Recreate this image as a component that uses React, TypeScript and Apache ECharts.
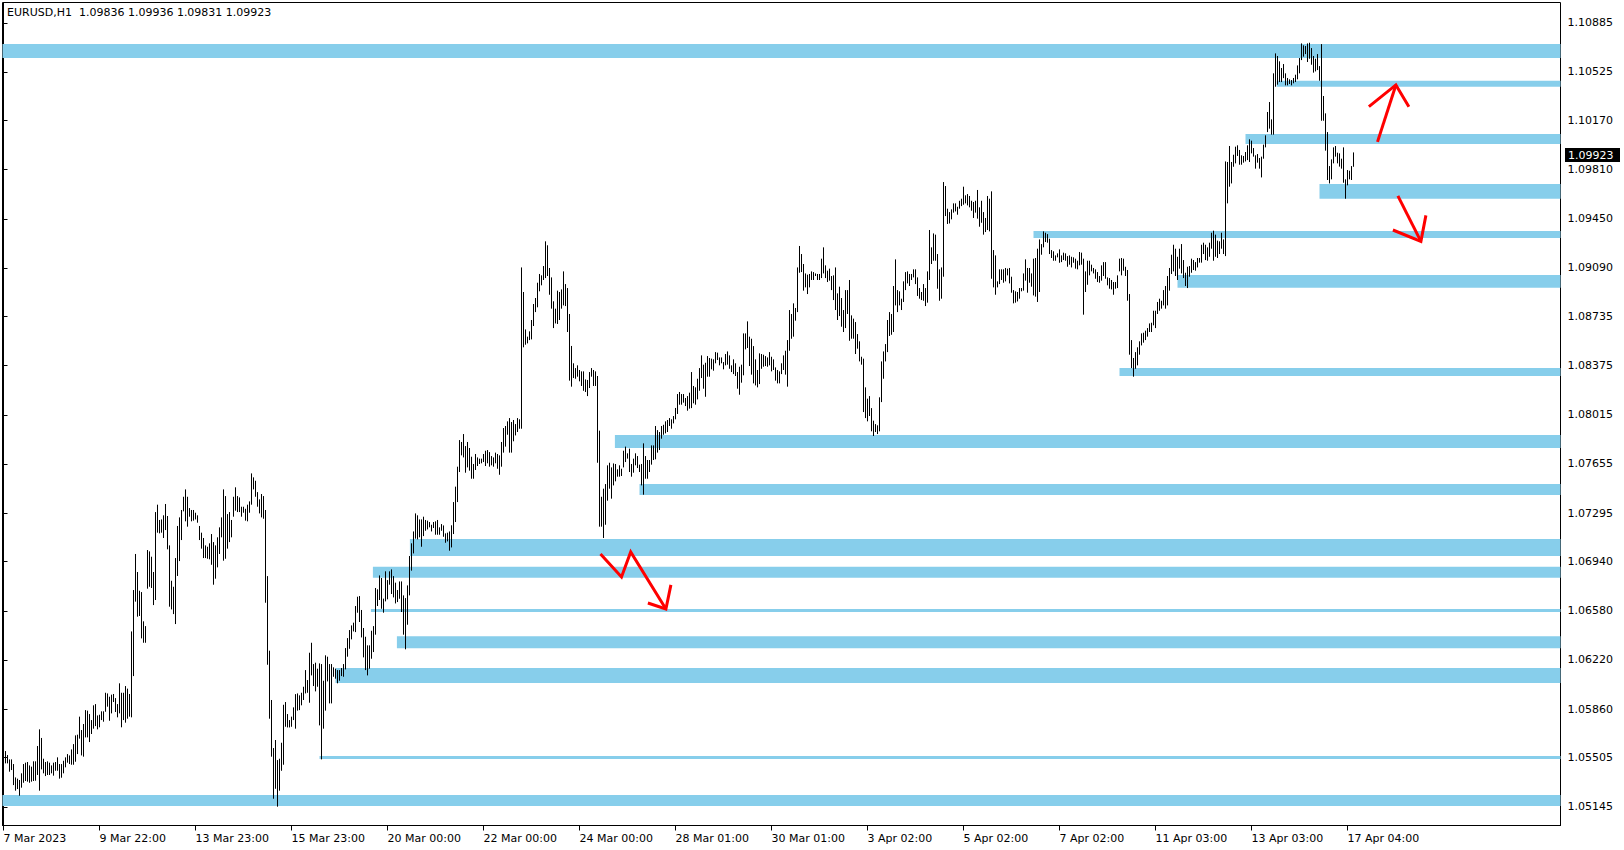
import React, { useEffect, useRef } from "react";
import * as echarts from "echarts";

// ---------- data ----------
const chartTitle = "EURUSD,H1  1.09836 1.09936 1.09831 1.09923";
const lastClose = 1.09923;
const lastCloseLabel = "1.09923";

// x-axis labels, one every 48 hourly bars
const xTickBars = [0, 48, 96, 144, 192, 240, 288, 336, 384, 432, 480, 528, 576, 624, 672];
const xTickLabels = [
  "7 Mar 2023", "9 Mar 22:00", "13 Mar 23:00", "15 Mar 23:00", "20 Mar 00:00",
  "22 Mar 00:00", "24 Mar 00:00", "28 Mar 01:00", "30 Mar 01:00", "3 Apr 02:00",
  "5 Apr 02:00", "7 Apr 02:00", "11 Apr 03:00", "13 Apr 03:00", "17 Apr 04:00",
];

// price-axis labels
const yTickLabels = [
  "1.10885", "1.10525", "1.10170", "1.09810", "1.09450", "1.09090", "1.08735", "1.08375",
  "1.08015", "1.07655", "1.07295", "1.06940", "1.06580", "1.06220", "1.05860", "1.05505", "1.05145",
];

// hourly bar highs and lows, in points (1e-5)
const barHigh = [
  105517,105553,105524,105492,105492,105458,105360,105351,105341,105390,
  105458,105468,105473,105448,105439,105478,105478,105590,105712,105649,
  105497,105473,105478,105468,105448,105468,105473,105507,105458,105458,
  105482,105507,105531,105521,105565,105604,105668,105673,105805,105707,
  105751,105853,105849,105824,105780,105888,105897,105814,105819,105844,
  105844,105980,105975,105951,105966,105971,105941,105897,106049,105980,
  105980,106029,106010,105971,106429,106732,106996,106864,106727,106717,
  106503,106468,107025,107015,106976,106864,107303,107357,107245,107249,
  107279,107362,107274,107059,106800,106756,106966,107201,107264,107318,
  107415,107469,107415,107332,107318,107318,107298,107279,107201,107152,
  107113,107059,107049,107074,107142,107083,107059,107118,107191,107264,
  107469,107420,107288,107303,107245,107415,107484,107420,107410,
  107342,107342,107327,107357,107381,107586,107557,107532,107449,107396,107435,
  107420,107318,106834,106288,105927,105575,105634,105487,105497,105614,
  105892,105912,105824,105780,105805,105873,105970,105975,105961,105980,
  106024,106146,106073,106273,106346,106190,106200,106156,106195,106190,
  106068,106254,106244,106190,106190,106166,106156,106146,106146,106161,
  106190,106307,106380,106439,106473,106493,106615,106683,106688,106586,
  106454,106390,106327,106327,106434,106468,106747,106737,106839,106820,
  106669,106869,106805,106869,106883,106834,106786,106732,106795,106795,
  106693,106673,106766,106981,107074,107161,107293,107279,107249,107249,
  107269,107245,107240,107230,107210,107230,107235,107245,107191,107215,
  107205,107147,107152,107161,
  107206,107376,107489,107635,107830,107816,
  107874,107786,107816,107772,107708,107655,107728,107703,107694,107694,
  107728,107752,107757,107742,107713,107703,107738,107728,107718,107816,
  107918,107933,107967,107991,107962,107977,107947,107991,107982,109094,
  108914,108640,108587,108626,108709,108826,108870,108982,109046,109036,
  109104,109285,109256,109090,109021,108846,108792,108924,108914,108933,
  109065,108972,108943,108753,108519,108392,108357,108377,108343,108333,
  108333,108274,108270,108328,108357,108343,108333,108299,107899,107415,
  107474,107508,107645,107664,107630,107659,107655,107616,107645,107620,
  107752,107782,107733,107767,107655,107694,107733,107713,107650,107655,
  107806,107713,107684,107684,107791,107791,107933,107903,107889,107933,
  107942,107967,107977,107991,107982,108006,108065,108167,108182,
  108167,108167,108138,108152,108177,108328,108226,108216,108279,108357,108450,
  108382,108396,108445,108431,108426,108421,108474,108470,108435,108435,
  108401,108460,108479,108450,108377,108421,108392,108328,108367,108382,
  108611,108611,108699,108587,108572,108518,108421,108343,108465,108460,
  108455,108445,108435,108474,108440,108421,108362,108343,108333,108392,
  108450,108484,108562,108782,108753,108831,108797,109094,109251,109192,
  109119,109050,109041,109046,109065,109060,109050,109046,109046,109158,
  109241,109109,109070,109085,109031,109036,109094,108904,108953,108870,
  108782,108928,108928,109002,108743,108719,108694,108606,108553,108440,
  108426,108216,108133,108152,108064,107972,107947,107938,108143,108406,
  108479,108533,108709,108767,108753,108958,109153,108928,108919,108865,
  108992,109060,109065,109046,109046,109080,109080,109021,108943,
  108914,108972,108943,109065,109368,109241,109343,109334,109192,109080,109094,
  109719,109690,109524,109499,109519,109563,109563,109538,109582,109597,
  109685,109622,109631,109617,109582,109573,109582,109661,109534,109582,
  109499,109456,109617,109597,109651,109221,109182,108992,109080,109080,
  109080,109090,109085,109090,109026,108928,108919,108914,108943,108943,
  109050,109153,109090,109090,109050,109158,109163,109231,109299,109265,
  109358,109348,109338,109304,109221,109212,109182,109197,109226,109182,
  109202,109197,109177,109182,109172,109168,109158,109143,109207,109202,
  109158,109065,109143,109143,109114,109090,109080,109060,109031,109109,
  109133,109133,109021,109016,109002,108987,108987,109036,109158,109163,
  109158,109099,109075,108899,108562,108431,108474,108509,108553,108611,
  108616,108631,108650,108684,
  108689,108777,108777,108841,108865,108850,
  108928,108958,109031,109090,109187,109260,109231,109172,109231,109265,
  109148,109055,109099,109104,109158,109148,109133,109163,109163,109260,
  109275,109260,109241,109275,109348,109363,109334,109290,109285,109348,
  109299,109870,109866,109983,109866,109919,109978,109988,109954,109915,
  109910,109939,109988,110032,110022,109968,109915,109924,109895,109905,
  109993,110061,110232,110305,110178,110515,110661,110642,110603,110554,
  110583,110515,110481,110471,110466,110481,110505,110573,110627,110734,
  110720,110715,110734,110739,110700,110642,110622,110656,110568,110729,
  110349,110222,110085,109836,109885,109973,109983,109934,109929,109890,
  109973,109739,109807,109802,109836,109936,
];

const barLow = [
  105453,105463,105463,105402,105414,105304,105263,105275,105226,105285,
  105321,105334,105329,105321,105329,105334,105336,105378,105263,105419,
  105390,105370,105378,105378,105390,105373,105409,105409,105351,105358,
  105390,105434,105468,105458,105453,105453,105475,105531,105644,105521,
  105512,105653,105653,105619,105678,105717,105736,105712,105727,105780,
  105768,105841,105878,105775,105829,105912,105839,105800,105829,105727,
  105780,105761,105790,105805,105800,106102,106647,106537,106542,106378,
  106346,106346,106742,106756,106747,106622,106659,107152,107147,107152,
  107113,107171,107030,106610,106590,106556,106483,106835,106944,107098,
  107308,107235,107196,107269,107235,107240,107249,107225,107098,107035,
  106966,106966,106961,106957,106917,106771,106815,106898,106996,107118,
  106947,106961,107035,107083,107118,107269,107313,107303,107303,
  107269,107298,107240,107235,107298,107357,107469,107415,107342,107293,107264,
  107254,106639,106185,105790,105512,105204,105277,105146,105263,105409,
  105453,105731,105726,105726,105731,105780,105717,105849,105853,105888,
  105927,105975,105980,105907,106107,106029,105990,106024,105741,105492,
  105717,105849,106063,105902,105902,106097,106083,106049,106068,106102,
  106097,106151,106244,106302,106371,106429,106424,106566,106498,106385,
  106239,106146,106107,106156,106229,106278,106405,106615,106659,106595,
  106566,106649,106664,106771,106703,106678,106634,106644,106668,106571,
  106405,106298,106478,106693,106874,107000,107108,107103,107118,107049,
  107127,107166,107176,107191,107161,107186,107137,107137,107137,107166,
  107122,107078,107088,107020,
  107044,107142,107230,107376,107596,107718,
  107703,107591,107630,107606,107547,107547,107611,107640,107655,107660,
  107669,107640,107660,107635,107645,107635,107660,107620,107576,107635,
  107738,107782,107869,107738,107738,107821,107864,107889,107913,107913,
  108509,108528,108538,108562,108567,108665,108767,108802,108919,108963,
  109002,109016,109031,108894,108792,108650,108684,108680,108709,108792,
  108816,108811,108621,108265,108221,108284,108279,108294,108260,108226,
  108191,108182,108152,108211,108294,108226,108226,107664,107196,107196,
  107113,107210,107386,107474,107401,107498,107528,107562,107562,107567,
  107630,107669,107694,107596,107562,107591,107645,107625,107596,107498,
  107430,107547,107547,107596,107650,107684,107689,107738,107757,107840,
  107869,107879,107889,107933,107913,107952,107982,108021,108089,
  108089,108104,108079,108045,108060,108064,108099,108089,108128,108191,108284,
  108206,108147,108294,108294,108348,108338,108392,108416,108377,108392,
  108348,108377,108382,108352,108328,108313,108299,108206,108162,108250,
  108304,108494,108504,108372,108309,108245,108230,108216,108240,108352,
  108367,108372,108367,108377,108333,108343,108265,108245,108245,108313,
  108343,108309,108221,108484,108572,108587,108704,108767,109055,109060,
  108924,108948,108899,108948,109002,109002,109031,109002,109002,109016,
  109050,109016,108987,108997,108928,108855,108782,108709,108738,108660,
  108621,108650,108753,108557,108572,108572,108460,108499,108406,108382,
  108035,107991,107967,108006,107894,107860,107889,107874,107894,108108,
  108279,108406,108474,108592,108601,108621,108816,108767,108816,108782,
  108841,108928,108977,108958,109002,109021,108972,108885,108865,
  108855,108850,108811,108836,109002,109119,109143,109143,108938,108850,108865,
  109026,109470,109412,109416,109446,109495,109504,109480,109524,109543,
  109553,109563,109548,109534,109509,109456,109495,109451,109392,109421,
  109334,109353,109368,109358,109011,108948,108894,108948,108972,109002,
  108982,108992,109036,108977,108909,108831,108836,108845,108865,108919,
  108924,108997,108909,108982,108953,108889,108880,108841,108914,109187,
  109241,109280,109275,109192,109163,109143,109143,109168,109128,109133,
  109148,109143,109099,109114,109094,109128,109085,109080,109109,109114,
  108748,108914,108967,109036,109065,109050,109011,108987,108982,108997,
  109031,109011,108963,108938,108933,108894,108938,108943,109065,109036,
  109070,109031,108850,108455,108357,108294,108352,108377,108455,108523,
  108543,108562,108587,108621,
  108621,108670,108650,108753,108777,108792,
  108816,108792,108816,108924,109046,109065,109031,109002,109085,109050,
  109016,108958,108943,109026,109055,109075,109070,109094,109129,109129,
  109192,109148,109143,109172,109231,109143,109172,109163,109192,109231,
  109192,109177,109563,109685,109709,109831,109856,109910,109846,109846,
  109861,109870,109880,109866,109929,109905,109817,109861,109817,109753,
  109890,109973,110085,110110,110066,110066,110417,110432,110451,110451,
  110480,110427,110427,110437,110427,110442,110451,110471,110515,110612,
  110637,110656,110598,110622,110578,110520,110529,110539,110461,110168,
  110168,109949,109734,109709,109739,109856,109905,109856,109832,109817,
  109714,109597,109695,109739,109734,109831,
];

// support / resistance zones: first bar, upper and lower price (points)
const zoneStartBar = [-0.5, 636.6, 621, 658, 515, 587, 558, 305.7, 318, 203.2, 184.7, 183.7, 196.7, 166, 158, -0.5];
const zoneUpper = [110730, 110461, 110071, 109705, 109361, 109039, 108358, 107867, 107509, 107106, 106902, 106593, 106394, 106161, 105517, 105231];
const zoneLower = [110627, 110417, 109998, 109597, 109309, 108946, 108299, 107772, 107428, 106982, 106822, 106571, 106306, 106051, 105495, 105151];

// hand-drawn red arrows: polylines of [bar, price in points]
const arrowStrokes = [
  [[298.5, 106996], [309, 106828], [313.6, 107011], [331.2, 106593]],
  [[322.2, 106637], [331.2, 106593], [333.7, 106770]],
  [[687, 110013], [696.2, 110430]],
  [[682.7, 110271], [696.2, 110430], [702.7, 110271]],
  [[697.2, 109618], [708.7, 109285]],
  [[694.7, 109368], [708.7, 109285], [711.2, 109475]],
];

const PT = 100000;
const FONT = "DejaVu Sans";

export default function App() {
  const ref = useRef<HTMLDivElement>(null);

  useEffect(() => {
    if (!ref.current) return;
    const chart = echarts.init(ref.current, undefined, { renderer: "svg" });

    const n = Math.min(barHigh.length, barLow.length);
    const bars = [];
    for (let i = 0; i < n; i++) {
      const h = Math.max(barHigh[i], barLow[i]) / PT;
      const l = Math.min(barHigh[i], barLow[i]) / PT;
      bars.push([i, l, h]);
    }
    const zones = zoneStartBar.map((s, k) => [s, zoneUpper[k] / PT, zoneLower[k] / PT]);
    const arrows = arrowStrokes.map((a, k) => [a[0][0], a[0][1] / PT, k]);
    const yVals = yTickLabels.map(Number);

    chart.setOption({
      animation: false,
      backgroundColor: "#ffffff",
      title: {
        text: chartTitle,
        left: 7,
        top: 7,
        padding: 0,
        textStyle: { fontFamily: FONT, fontSize: 11, fontWeight: "normal", color: "#000" },
      },
      grid: {
        left: 2.5,
        top: 2.5,
        width: 1558,
        height: 823,
        show: true,
        borderColor: "#000",
        borderWidth: 1,
        backgroundColor: "transparent",
      },
      xAxis: {
        type: "value",
        min: -0.5,
        max: 778.5,
        axisLine: { show: true, lineStyle: { color: "#000", width: 1 } },
        axisTick: { show: true, length: 5, lineStyle: { color: "#000" }, customValues: xTickBars },
        axisLabel: {
          customValues: xTickBars,
          formatter: (v: number) => {
            const k = xTickBars.indexOf(Math.round(v));
            return k >= 0 ? xTickLabels[k] : "";
          },
          align: "left",
          margin: 7,
          color: "#000",
          fontFamily: FONT,
          fontSize: 11,
        },
        splitLine: { show: false },
      },
      yAxis: {
        type: "value",
        position: "right",
        min: 1.050081,
        max: 1.110336,
        axisLine: { show: true, lineStyle: { color: "#000", width: 1 } },
        axisTick: { show: true, length: 4, lineStyle: { color: "#000" }, customValues: yVals },
        axisLabel: {
          customValues: yVals,
          formatter: (v: number) => {
            let best = 0;
            for (let k = 1; k < yVals.length; k++) {
              if (Math.abs(yVals[k] - v) < Math.abs(yVals[best] - v)) best = k;
            }
            return yTickLabels[best];
          },
          margin: 7,
          padding: [3, 0, 0, 0],
          color: "#000",
          fontFamily: FONT,
          fontSize: 11,
        },
        splitLine: { show: false },
      },
      series: [
        {
          type: "custom",
          name: "zones",
          z: 1,
          clip: true,
          data: zones,
          renderItem: (params: any, api: any) => {
            const p0 = api.coord([api.value(0), api.value(1)]);
            const p1 = api.coord([api.value(0), api.value(2)]);
            const cs = params.coordSys;
            const right = cs.x + cs.width;
            return {
              type: "rect",
              shape: { x: p0[0], y: p0[1], width: right - p0[0], height: p1[1] - p0[1] },
              style: { fill: "#87CEEB" },
            };
          },
        },
        {
          type: "custom",
          name: "EURUSD",
          z: 2,
          clip: true,
          data: bars,
          renderItem: (params: any, api: any) => {
            const lo = api.coord([api.value(0), api.value(1)]);
            const hi = api.coord([api.value(0), api.value(2)]);
            return {
              type: "line",
              shape: { x1: hi[0], y1: hi[1], x2: lo[0], y2: lo[1] },
              style: { stroke: "#000", lineWidth: 1 },
            };
          },
        },
        {
          type: "custom",
          name: "arrows",
          z: 3,
          clip: true,
          data: arrows,
          renderItem: (params: any, api: any) => {
            const k = api.value(2);
            const pts = arrowStrokes[k].map((p) => api.coord([p[0], p[1] / PT]));
            return {
              type: "polyline",
              shape: { points: pts },
              style: { stroke: "#ff0000", lineWidth: 3, fill: null, lineJoin: "miter" },
            };
          },
        },
      ],
    });

    // current-price tag on the price axis, placed through the axis scale
    const yPix = chart.convertToPixel({ yAxisIndex: 0 }, lastClose) as number;
    const xAxisEnd = chart.convertToPixel({ xAxisIndex: 0 }, 778.5) as number;
    chart.setOption({
      graphic: [
        {
          type: "group",
          z: 100,
          children: [
            {
              type: "rect",
              shape: { x: xAxisEnd + 4.5, y: Math.round(yPix) - 6, width: 55, height: 14 },
              style: { fill: "#000" },
            },
            {
              type: "text",
              x: xAxisEnd + 7.5,
              y: Math.round(yPix) + 1.5,
              style: {
                text: lastCloseLabel,
                fill: "#fff",
                font: `11px "${FONT}"`,
                verticalAlign: "middle",
                align: "left",
              },
            },
          ],
        },
      ],
    });

    return () => chart.dispose();
  }, []);

  return (
    <div
      ref={ref}
      style={{ position: "fixed", left: 0, top: 0, width: 1624, height: 850, background: "#fff" }}
    />
  );
}
